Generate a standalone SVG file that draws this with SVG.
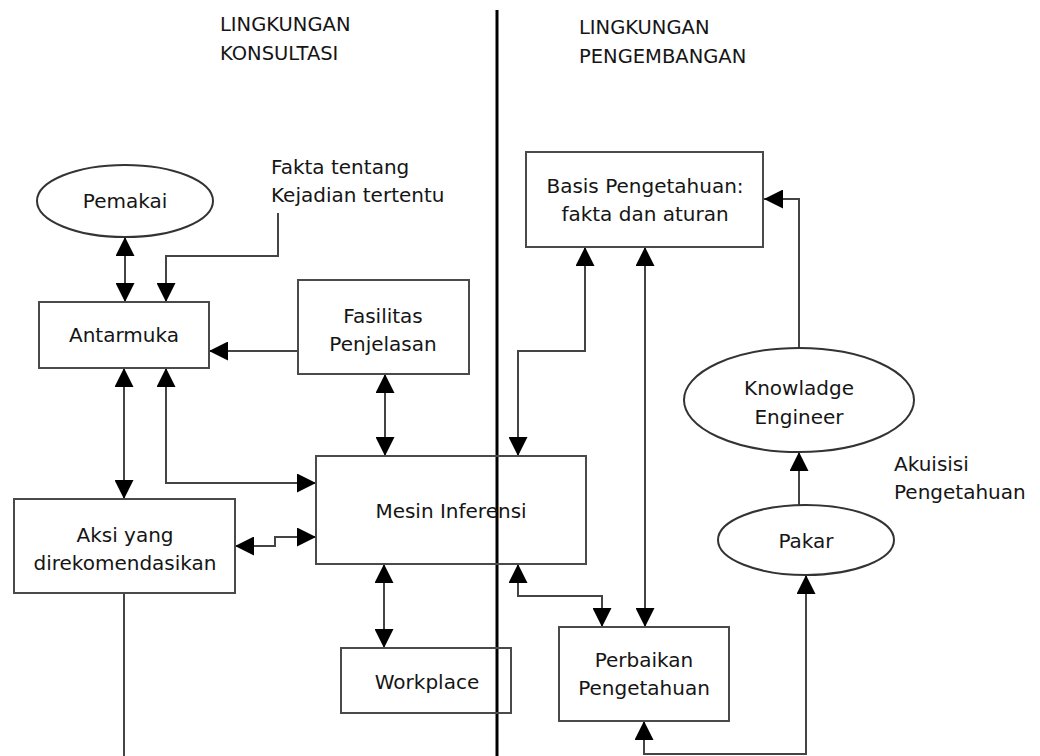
<svg xmlns="http://www.w3.org/2000/svg" width="1040" height="756" viewBox="0 0 1040 756">
<style>
text{font-family:"DejaVu Sans","Verdana",sans-serif;font-size:20px;fill:#151515}
.h{font-size:19.5px}
.m{text-anchor:middle}
.box{fill:#fff;stroke:#4a4a4a;stroke-width:2}
.ell{fill:#fff;stroke:#333;stroke-width:2}
.c{fill:none;stroke:#444;stroke-width:2}
</style>
<defs>
<marker id="ah" markerUnits="userSpaceOnUse" markerWidth="19" markerHeight="19" refX="19" refY="9.5" orient="auto-start-reverse" viewBox="0 0 19 19">
<path d="M0,0 L19,9.5 L0,19 z" fill="#000"/>
</marker>
</defs>
<rect width="1040" height="756" fill="#fff"/>
<g id="headers">
<text class="h" x="220" y="31">LINGKUNGAN</text>
<text class="h" x="220" y="60">KONSULTASI</text>
<text class="h" x="579" y="34">LINGKUNGAN</text>
<text class="h" x="579" y="63">PENGEMBANGAN</text>
<line x1="497" y1="10" x2="497" y2="756" stroke="#000" stroke-width="3"/>
</g>
<g id="connectors">
<line class="c" x1="125" y1="237" x2="125" y2="302" marker-start="url(#ah)" marker-end="url(#ah)"/>
<polyline class="c" points="278,213 278,256 166,256 166,302" marker-end="url(#ah)"/>
<line class="c" x1="298" y1="351" x2="209" y2="351" marker-end="url(#ah)"/>
<line class="c" x1="124" y1="368" x2="124" y2="499" marker-start="url(#ah)" marker-end="url(#ah)"/>
<polyline class="c" points="166,368 166,483 316,483" marker-start="url(#ah)" marker-end="url(#ah)"/>
<line class="c" x1="385" y1="374" x2="385" y2="456" marker-start="url(#ah)" marker-end="url(#ah)"/>
<polyline class="c" points="235,546 275,546 275,537 316,537" marker-start="url(#ah)" marker-end="url(#ah)"/>
<line class="c" x1="384" y1="564" x2="384" y2="648" marker-start="url(#ah)" marker-end="url(#ah)"/>
<line class="c" x1="124" y1="593" x2="124" y2="756"/>
<polyline class="c" points="585,247 585,351 518,351 518,456" marker-start="url(#ah)" marker-end="url(#ah)"/>
<line class="c" x1="645" y1="247" x2="645" y2="627" marker-start="url(#ah)" marker-end="url(#ah)"/>
<polyline class="c" points="518,564 518,596 602,596 602,627" marker-start="url(#ah)" marker-end="url(#ah)"/>
<polyline class="c" points="799,348 799,199 764,199" marker-end="url(#ah)"/>
<line class="c" x1="799" y1="505" x2="799" y2="452" marker-end="url(#ah)"/>
<polyline class="c" points="644,721 644,754 806,754 806,575" marker-start="url(#ah)" marker-end="url(#ah)"/>
</g>
<g id="pemakai">
<ellipse class="ell" cx="125" cy="201" rx="88" ry="36"/>
<text class="m" x="125" y="208">Pemakai</text>
</g>
<g id="fakta">
<text x="271" y="174">Fakta tentang</text>
<text x="271" y="202">Kejadian tertentu</text>
</g>
<g id="antarmuka">
<rect class="box" x="39" y="302" width="170" height="66"/>
<text class="m" x="124" y="342">Antarmuka</text>
</g>
<g id="fasilitas">
<rect class="box" x="298" y="280" width="171" height="94"/>
<text class="m" x="383" y="323">Fasilitas</text>
<text class="m" x="383" y="351">Penjelasan</text>
</g>
<g id="aksi">
<rect class="box" x="14" y="499" width="221" height="94"/>
<text class="m" x="125" y="542">Aksi yang</text>
<text class="m" x="125" y="570">direkomendasikan</text>
</g>
<g id="mesin">
<rect class="box" x="316" y="456" width="270" height="108" fill-opacity="0"/>
<text class="m" x="451" y="518">Mesin Inferensi</text>
</g>
<g id="workplace">
<rect class="box" x="341" y="648" width="170" height="65" fill-opacity="0"/>
<text class="m" x="427" y="689">Workplace</text>
</g>
<g id="basis">
<rect class="box" x="526" y="152" width="237" height="95"/>
<text class="m" x="645" y="193">Basis Pengetahuan:</text>
<text class="m" x="645" y="221">fakta dan aturan</text>
</g>
<g id="ke">
<ellipse class="ell" cx="799" cy="400" rx="115" ry="52"/>
<text class="m" x="799" y="395">Knowladge</text>
<text class="m" x="799" y="424">Engineer</text>
</g>
<g id="akuisisi">
<text x="894" y="471">Akuisisi</text>
<text x="894" y="499">Pengetahuan</text>
</g>
<g id="pakar">
<ellipse class="ell" cx="806" cy="540" rx="88" ry="35"/>
<text class="m" x="806" y="548">Pakar</text>
</g>
<g id="perbaikan">
<rect class="box" x="559" y="627" width="170" height="94"/>
<text class="m" x="644" y="667">Perbaikan</text>
<text class="m" x="644" y="695">Pengetahuan</text>
</g>
</svg>
